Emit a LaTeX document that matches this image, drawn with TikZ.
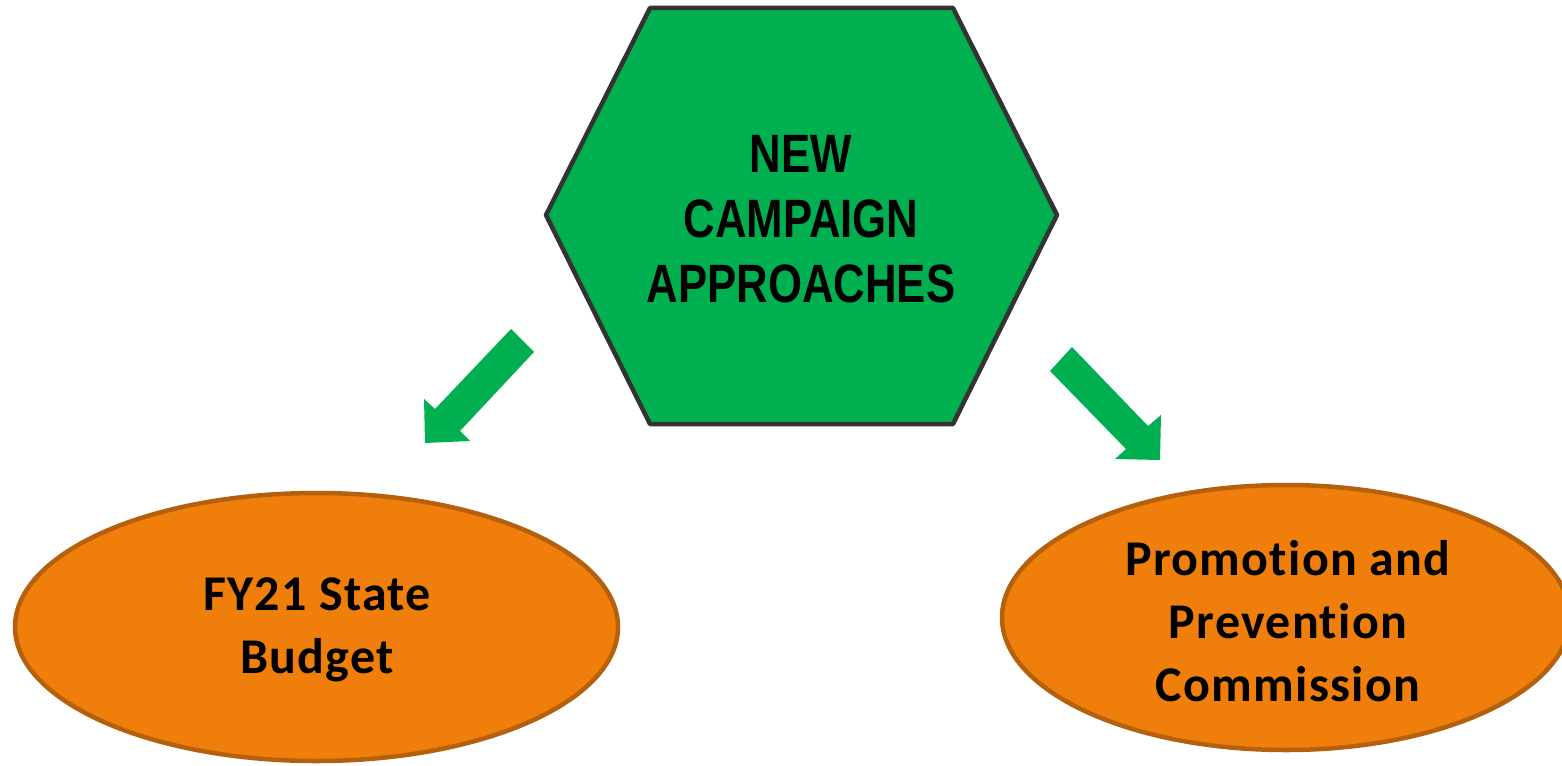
\documentclass[tikz,border=0pt]{standalone}
\usepackage{fontspec}
\usetikzlibrary{shapes.geometric}
\newfontfamily\hexfont[FakeStretch=0.81]{Liberation Sans}
\newfontfamily\ellfont[Ligatures={NoCommon}, LetterSpace=2.5]{Carlito}
\definecolor{hexgreen}{HTML}{00B050}
\definecolor{hexedge}{HTML}{333333}
\definecolor{ellorange}{HTML}{EF7F0A}
\definecolor{elledge}{HTML}{B5600C}
\tikzset{
  hexshape/.style={fill=hexgreen, draw=hexedge, line width=4.5pt, line join=round},
  ellshape/.style={ellipse, fill=ellorange, draw=elledge, line width=4.5pt, inner sep=0pt, outer sep=0pt},
  hextext/.style={align=center, font=\hexfont\bfseries\fontsize{54}{65}\selectfont, text=black},
  elltext/.style={align=center, font=\ellfont\bfseries\fontsize{50}{63}\selectfont, text=black},
  blockarrow/.style={fill=hexgreen, draw=none}
}
\begin{document}
\begin{tikzpicture}[x=1pt,y=-1pt]
\useasboundingbox (0,0) rectangle (1562,765);
\clip (0,0) rectangle (1562,765);
% hexagon
\coordinate (h1) at (650,8);
\coordinate (h2) at (953,8);
\coordinate (h3) at (1057,215);
\coordinate (h4) at (953,424);
\coordinate (h5) at (650,424);
\coordinate (h6) at (546,215);
\draw[hexshape] (h1) -- (h2) -- (h3) -- (h4) -- (h5) -- (h6) -- cycle;
\node[hextext] (hex) at (801,219) {NEW\\CAMPAIGN\\APPROACHES};
% ellipses
\node[ellshape, minimum width=603pt, minimum height=268pt] (budget) at (316.5,627) {};
\node[elltext] (budgettext) at (317,630) {FY21 State\\Budget};
\node[ellshape, minimum width=568pt, minimum height=265pt] (commission) at (1286,617.5) {};
\node[elltext] (commissiontext) at (1288,621) {Promotion and\\Prevention\\Commission};
% block arrows
\fill[blockarrow] (511,329) -- (534,352) -- (460,431) -- (470,441) -- (425,443) -- (424,399) -- (435,409) -- cycle;
\fill[blockarrow] (1072,347) -- (1148,426) -- (1161,415) -- (1160,460) -- (1115,459) -- (1126,449) -- (1050,371) -- cycle;
\end{tikzpicture}
\end{document}
